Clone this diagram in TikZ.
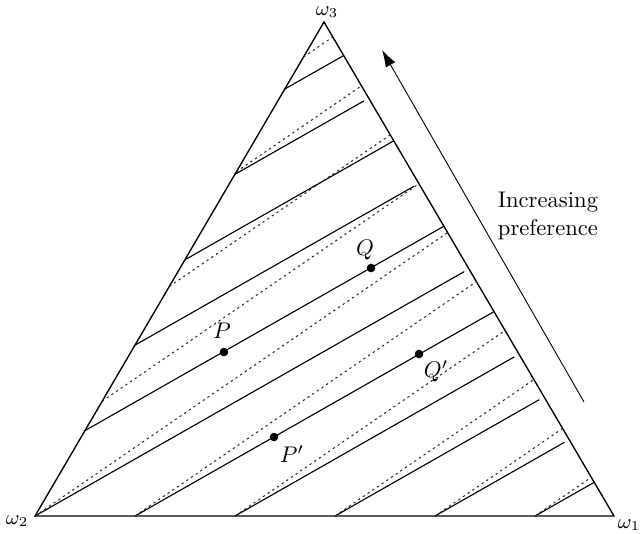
\documentclass[tikz,border=0pt]{standalone}
\usetikzlibrary{arrows.meta}
\begin{document}
\begin{tikzpicture}[x=0.442pt,y=-0.442pt,
  tri/.style={line width=0.6pt},
  sol/.style={line width=0.5pt},
  dot/.style={line width=0.45pt, black!85, dash pattern=on 1pt off 1.5pt},
  pt/.style={circle, fill=black, inner sep=0pt, minimum size=3.8pt},
  lab/.style={inner sep=1pt},
  vlab/.style={inner sep=0.5pt, font=\small},
  arr/.style={line width=0.4pt, -{Latex[length=7.5pt,width=4.8pt]}}]
\useasboundingbox (0,0) rectangle (641,533);
% vertices
\coordinate (w2) at (35,516);
\coordinate (w1) at (614,516);
\coordinate (w3) at (324,22);
\draw[tri] (w2) -- (w1) -- (w3) -- cycle;
% solid indifference lines
\draw[sol] (284.8,89.0) -- (343.7,55.5);
\draw[sol] (234.8,174.4) -- (363.9,100.9);
\draw[sol] (184.9,259.8) -- (393.8,140.8);
\draw[sol] (134.9,345.2) -- (414.0,186.2);
\draw[sol] (85.0,430.6) -- (443.9,226.2);
\draw[sol] (w2) -- (464.2,271.6);
\draw[sol] (135,516) -- (494.0,311.6);
\draw[sol] (235,516) -- (514.2,356.9);
\draw[sol] (335,516) -- (539.3,399.6);
\draw[sol] (435,516) -- (564.4,442.3);
\draw[sol] (535,516) -- (594.2,482.3);
% dotted lines
\draw[dot] (303.5,57) -- (332.8,36.9);
\draw[dot] (236.4,171.75) -- (361.5,85.8);
\draw[dot] (169.3,286.5) -- (390.2,134.8);
\draw[dot] (102.1,401.25) -- (419.0,183.7);
\draw[dot] (w2) -- (447.6,232.6);
\draw[dot] (135,516) -- (476.4,281.6);
\draw[dot] (235,516) -- (505.1,330.5);
\draw[dot] (335,516) -- (533.9,379.5);
\draw[dot] (435,516) -- (562.6,428.4);
\draw[dot] (535,516) -- (591.3,477.3);
% vertex labels
\node[vlab] (l3) at (327,12) {$\omega_3$};
\node[vlab] (l2) at (17,521) {$\omega_2$};
\node[vlab] (l1) at (629,525) {$\omega_1$};
% points
\node[pt] (P) at (224,352) {};
\node[pt] (Q) at (371,268) {};
\node[pt] (Pp) at (274,437) {};
\node[pt] (Qp) at (419,354) {};
\node[lab] (lP) at (222,331) {$P$};
\node[lab] (lQ) at (365,250) {$Q$};
\node[lab] (lPp) at (292,454) {$P'$};
\node[lab] (lQp) at (436,371) {$Q'$};
% arrow and text
\coordinate (a0) at (584,402);
\coordinate (a1) at (382,50);
\draw[arr] (a0) -- (a1);
\node[align=center, inner sep=0pt] (txt) at (548,216) {Increasing\\preference};
\end{tikzpicture}
\end{document}
